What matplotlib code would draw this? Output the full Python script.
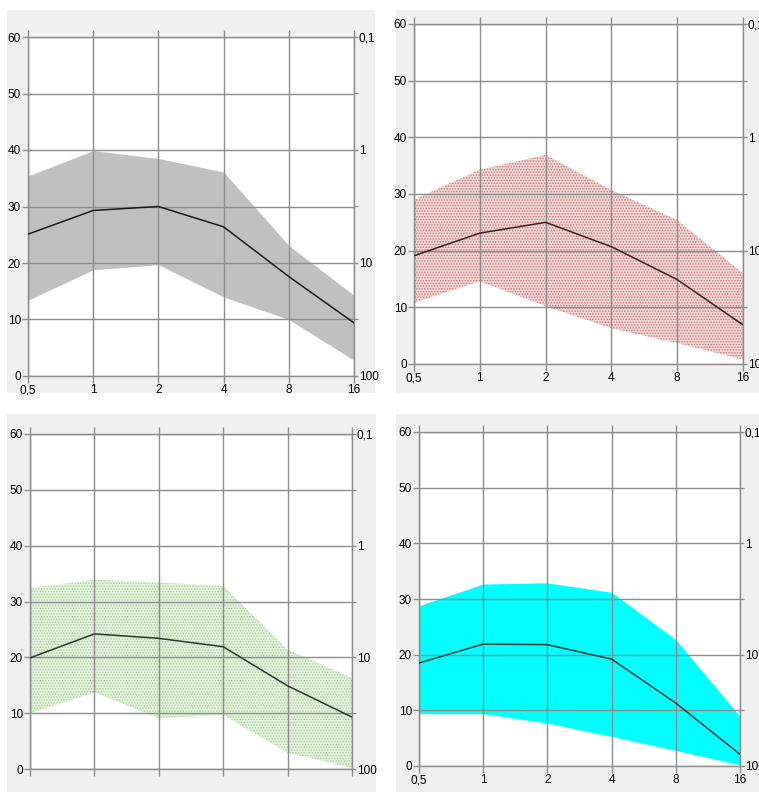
import numpy as np
import matplotlib.pyplot as plt
from matplotlib.patches import Rectangle

plt.rcParams['font.family'] = ['Liberation Sans Narrow', 'Liberation Sans', 'DejaVu Sans']
plt.rcParams['hatch.linewidth'] = 0.7

# x categories (log2 spaced, drawn equally spaced)
x_labels = ['0,5', '1', '2', '4', '8', '16']
right_labels = ['100', '', '10', '', '1', '', '0,1']

# panel 1 - grey
p1_mid = [25.1, 29.3, 30.0, 26.4, 17.6, 9.4]
p1_hi = [35.4, 39.9, 38.5, 36.1, 23.1, 14.3]
p1_lo = [13.4, 18.8, 19.7, 14.0, 10.0, 2.8]
# panel 2 - red dots
p2_mid = [19.1, 23.1, 25.0, 20.7, 14.9, 6.9]
p2_hi = [29.0, 34.3, 36.9, 30.7, 25.4, 16.0]
p2_lo = [10.8, 14.6, 10.2, 6.3, 3.7, 0.8]
# panel 3 - green dots
p3_mid = [19.9, 24.2, 23.4, 21.9, 14.9, 9.3]
p3_hi = [32.4, 33.9, 33.4, 32.8, 21.4, 16.3]
p3_lo = [10.0, 13.7, 9.1, 9.7, 2.9, 0.2]
# panel 4 - cyan
p4_mid = [18.5, 21.9, 21.8, 19.2, 11.3, 2.1]
p4_hi = [28.8, 32.7, 32.9, 31.2, 22.7, 8.9]
p4_lo = [9.4, 9.4, 7.7, 5.3, 2.8, 0.2]

W, H = 759, 792
fig = plt.figure(figsize=(W / 100, H / 100), dpi=100)
fig.patch.set_facecolor('white')

def px_rect(l, t, r, b):
    return [l / W, 1 - b / H, (r - l) / W, (b - t) / H]

panels = [
    # data, gray box, axes box, fill style, line colour, xlabels
    (p1_mid, p1_hi, p1_lo, (7, 10, 375, 393), (28, 37, 354, 376),
     dict(color='#c0c0c0', lw=0), '#1a1a1a', True),
    (p2_mid, p2_hi, p2_lo, (396, 10, 759, 393), (414, 24, 743, 364),
     dict(facecolor='#f0d6d6', edgecolor='#c87878', hatch='......', lw=0), '#3a2020', True),
    (p3_mid, p3_hi, p3_lo, (7, 414, 376, 792), (30, 434, 352, 769),
     dict(facecolor='#e3f1dd', edgecolor='#acd29c', hatch='......', lw=0), '#2a3a2a', False),
    (p4_mid, p4_hi, p4_lo, (396, 414, 759, 792), (419, 432, 740, 766),
     dict(color='#00ffff', lw=0), '#1a3a3a', True),
]

xs = np.arange(len(x_labels))
grid_c = '#8c8c8c'

for mid, hi, lo, box, axbox, fstyle, lc, show_x in panels:
    l, t, r, b = box
    bg = Rectangle((l / W, 1 - b / H), (r - l) / W, (b - t) / H,
                   transform=fig.transFigure, facecolor='#f0f0f0',
                   edgecolor='none', zorder=-10)
    fig.add_artist(bg)
    ax = fig.add_axes(px_rect(*axbox))
    ax.set_facecolor('white')
    ax.fill_between(xs, lo, hi, zorder=1, **fstyle)
    ax.plot(xs, mid, color=lc, lw=1.1, zorder=3)
    ax.set_xlim(0, 5)
    ax.set_ylim(0, 60)
    ax.set_xticks(xs)
    ax.set_yticks(np.arange(0, 61, 10))
    ax.set_xticklabels(x_labels if show_x else [''] * 6)
    ax.grid(True, color=grid_c, lw=1)
    ax.set_axisbelow(False)
    ax.tick_params(axis='x', direction='out', length=5, width=1, color=grid_c,
                   labelsize=8.5, pad=1, top=True)
    ax.tick_params(axis='y', direction='out', length=4, width=1, color=grid_c,
                   labelsize=8.5, pad=1)
    for s in ax.spines.values():
        s.set_color(grid_c)
        s.set_linewidth(1)
    ax.spines['left'].set_color('#707070')
    ax2 = ax.twinx()
    ax2.set_ylim(0, 60)
    ax2.set_yticks(np.arange(0, 61, 10))
    ax2.set_yticklabels(right_labels)
    ax2.tick_params(axis='y', direction='out', length=3, width=1, color=grid_c,
                    labelsize=8.5, pad=0.5)
    for s in ax2.spines.values():
        s.set_visible(False)

fig.savefig('out.png', dpi=100)
